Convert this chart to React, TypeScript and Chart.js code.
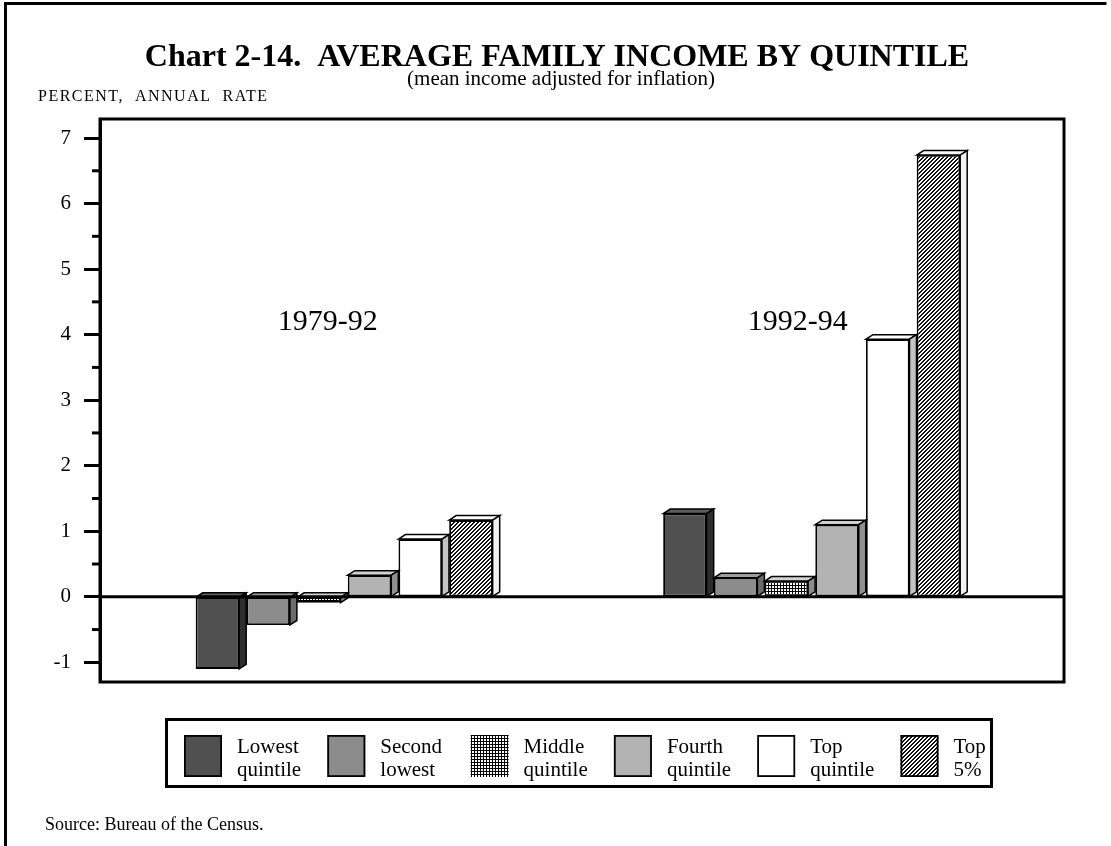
import React, { useEffect, useRef } from 'react';
import { Chart, registerables } from 'chart.js';

Chart.register(...registerables);

// ---------- data ----------
const periods = ['1979-92', '1992-94'];
const seriesNames: string[][] = [
  ['Lowest', 'quintile'],
  ['Second', 'lowest'],
  ['Middle', 'quintile'],
  ['Fourth', 'quintile'],
  ['Top', 'quintile'],
  ['Top', '5%'],
];
const lowestQuintile = [-1.1, 1.27];
const secondLowest = [-0.43, 0.29];
const middleQuintile = [-0.09, 0.24];
const fourthQuintile = [0.33, 1.1];
const topQuintile = [0.88, 3.93];
const top5Percent = [1.17, 6.74];
const titleText = 'Chart 2-14.  AVERAGE FAMILY INCOME BY QUINTILE';
const subtitleText = '(mean income adjusted for inflation)';
const yAxisText = 'PERCENT,  ANNUAL  RATE';
const sourceText = 'Source: Bureau of the Census.';

const FONT = '"Liberation Serif", "Times New Roman", "DejaVu Serif", serif';

function makeGridPattern(): CanvasPattern {
  const c = document.createElement('canvas');
  c.width = 3;
  c.height = 3;
  const g = c.getContext('2d')!;
  g.fillStyle = '#ffffff';
  g.fillRect(0, 0, 3, 3);
  g.fillStyle = '#000000';
  g.fillRect(0, 0, 3, 1);
  g.fillRect(0, 0, 1, 3);
  return g.createPattern(c, 'repeat')!;
}

function makeHatchPattern(): CanvasPattern {
  const c = document.createElement('canvas');
  c.width = 4;
  c.height = 4;
  const g = c.getContext('2d')!;
  g.fillStyle = '#ffffff';
  g.fillRect(0, 0, 4, 4);
  g.fillStyle = '#111111';
  for (let x = 0; x < 4; x++) {
    g.fillRect(x, 3 - x, 1, 1);
    g.fillRect(x, (4 - x) % 4, 1, 1);
  }
  return g.createPattern(c, 'repeat')!;
}

export default function App() {
  const ref = useRef<HTMLCanvasElement>(null);

  useEffect(() => {
    document.body.style.margin = '0';
    const canvas = ref.current!;
    const gridPat = makeGridPattern();
    const hatchPat = makeHatchPattern();
    const fills: (string | CanvasPattern)[] = ['#505050', '#8c8c8c', gridPat, '#b3b3b3', '#ffffff', hatchPat];
    const sideFills = ['#2e2e2e', '#6c6c6c', '#8c8c8c', '#909090', '#c4c4c4', '#f2f2f2'];
    const topFills = ['#5c5c5c', '#9c9c9c', '#d4d4d4', '#d0d0d0', '#ffffff', '#ffffff'];
    const series = [lowestQuintile, secondLowest, middleQuintile, fourthQuintile, topQuintile, top5Percent];

    const DX = 7;
    const DY = 4.5;

    const decor = {
      id: 'decor',
      beforeDraw(chart: any) {
        const ctx = chart.ctx as CanvasRenderingContext2D;
        ctx.save();
        ctx.fillStyle = '#ffffff';
        ctx.fillRect(0, 0, chart.width, chart.height);
        // page frame
        ctx.strokeStyle = '#000';
        ctx.lineWidth = 3;
        ctx.beginPath();
        ctx.moveTo(5.5, chart.height);
        ctx.lineTo(5.5, 3.5);
        ctx.lineTo(1106.5, 3.5);
        ctx.stroke();
        // texts
        ctx.fillStyle = '#000';
        ctx.textBaseline = 'alphabetic';
        ctx.textAlign = 'center';
        ctx.font = `bold 32px ${FONT}`;
        ctx.fillText(titleText, 557, 66);
        ctx.font = `21px ${FONT}`;
        ctx.fillText(subtitleText, 561, 85);
        ctx.textAlign = 'left';
        ctx.font = `16px ${FONT}`;
        (ctx as any).letterSpacing = '1.5px';
        ctx.fillText(yAxisText, 38, 101);
        (ctx as any).letterSpacing = '0px';
        ctx.font = `18px ${FONT}`;
        ctx.fillText(sourceText, 45, 830);
        // legend
        ctx.lineWidth = 3;
        ctx.strokeRect(166.5, 719.5, 825, 67);
        for (let i = 0; i < series.length; i++) {
          const sx = 184 + i * 143.3;
          ctx.fillStyle = fills[i] as any;
          ctx.fillRect(sx, 735, 38, 42);
          if (i !== 2) {
            ctx.lineWidth = 1.8;
            ctx.strokeStyle = '#000';
            ctx.strokeRect(sx + 0.9, 735.9, 36.2, 40.2);
          }
          ctx.fillStyle = '#000';
          ctx.font = `21px ${FONT}`;
          const lines = seriesNames[i];
          ctx.fillText(lines[0], sx + 53, 753);
          ctx.fillText(lines[1], sx + 53, 776);
        }
        ctx.restore();
      },
      afterDatasetsDraw(chart: any) {
        const ctx = chart.ctx as CanvasRenderingContext2D;
        const area = chart.chartArea;
        const xs = chart.scales.x;
        const ys = chart.scales.y;
        ctx.save();
        ctx.lineWidth = 1.5;
        ctx.strokeStyle = '#000';
        ctx.lineJoin = 'miter';
        chart.data.datasets.forEach((ds: any, di: number) => {
          const meta = chart.getDatasetMeta(di);
          meta.data.forEach((bar: any) => {
            const p = bar.getProps(['x', 'y', 'base', 'width'], true);
            const l = p.x - p.width / 2;
            const r = p.x + p.width / 2;
            const t = Math.min(p.y, p.base);
            const b = Math.max(p.y, p.base);
            ctx.beginPath();
            ctx.moveTo(l, t);
            ctx.lineTo(l + DX, t - DY);
            ctx.lineTo(r + DX, t - DY);
            ctx.lineTo(r, t);
            ctx.closePath();
            ctx.fillStyle = topFills[di];
            ctx.fill();
            ctx.stroke();
            ctx.beginPath();
            ctx.moveTo(r, t);
            ctx.lineTo(r + DX, t - DY);
            ctx.lineTo(r + DX, b - DY);
            ctx.lineTo(r, b);
            ctx.closePath();
            ctx.fillStyle = sideFills[di];
            ctx.fill();
            ctx.stroke();
          });
        });
        const y0 = ys.getPixelForValue(0);
        ctx.lineWidth = 3;
        ctx.beginPath();
        ctx.moveTo(area.left, y0);
        ctx.lineTo(area.right, y0);
        ctx.stroke();
        ctx.strokeRect(area.left, area.top, area.right - area.left, area.bottom - area.top);
        for (let v = -0.5; v < 7.3; v += 1) {
          const py = ys.getPixelForValue(v);
          ctx.beginPath();
          ctx.moveTo(area.left - 8, py);
          ctx.lineTo(area.left, py);
          ctx.stroke();
        }
        ctx.fillStyle = '#000';
        ctx.font = `30px ${FONT}`;
        ctx.textAlign = 'center';
        ctx.textBaseline = 'middle';
        periods.forEach((lab, i) => {
          ctx.fillText(lab, xs.getPixelForValue(i - 0.035 + i * 0.005), ys.getPixelForValue(4.19));
        });
        ctx.restore();
      },
    };

    const chart = new Chart(canvas, {
      type: 'bar',
      data: {
        datasets: series.map((vals, i) => ({
          label: seriesNames[i].join(' '),
          data: vals.map((v, j) => ({ x: j, y: v })),
          backgroundColor: fills[i] as any,
          borderColor: '#000000',
          borderWidth: 1.8,
          borderSkipped: false,
          categoryPercentage: 0.6507,
          barPercentage: 0.858,
        })),
      },
      options: {
        responsive: false,
        animation: false,
        devicePixelRatio: 1,
        layout: { padding: { left: 0, right: 1111 - 1064, top: 119, bottom: 846 - 682 } },
        plugins: {
          legend: { display: false },
          tooltip: { enabled: false },
          title: { display: false },
        },
        scales: {
          x: {
            type: 'linear',
            min: -0.5223,
            max: 1.5397,
            offset: false,
            bounds: 'data',
            grace: 0,
            display: false,
            grid: { offset: false },
            ticks: { stepSize: 1 },
            afterBuildTicks: (s: any) => {
              s.ticks = periods.map((_, i) => ({ value: i }));
            },
          },
          y: {
            type: 'linear',
            min: -1.3,
            max: 7.29,
            afterFit: (s: any) => {
              s.width = 100;
            },
            ticks: {
              stepSize: 0.5,
              includeBounds: false,
              color: '#000',
              padding: 13,
              font: { family: FONT, size: 21 },
              callback: (v: any) => (Number.isInteger(v) ? String(v) : ''),
            },
            grid: {
              drawOnChartArea: false,
              tickLength: 16,
              tickWidth: 3,
              tickColor: (ctx: any) => (ctx.tick && Number.isInteger(ctx.tick.value) ? '#000' : 'rgba(0,0,0,0)'),
            },
            border: { display: true, color: '#000', width: 3 },
          },
        },
      } as any,
      plugins: [decor],
    });
    return () => chart.destroy();
  }, []);

  return <canvas ref={ref} width={1111} height={846} style={{ display: 'block' }} />;
}
